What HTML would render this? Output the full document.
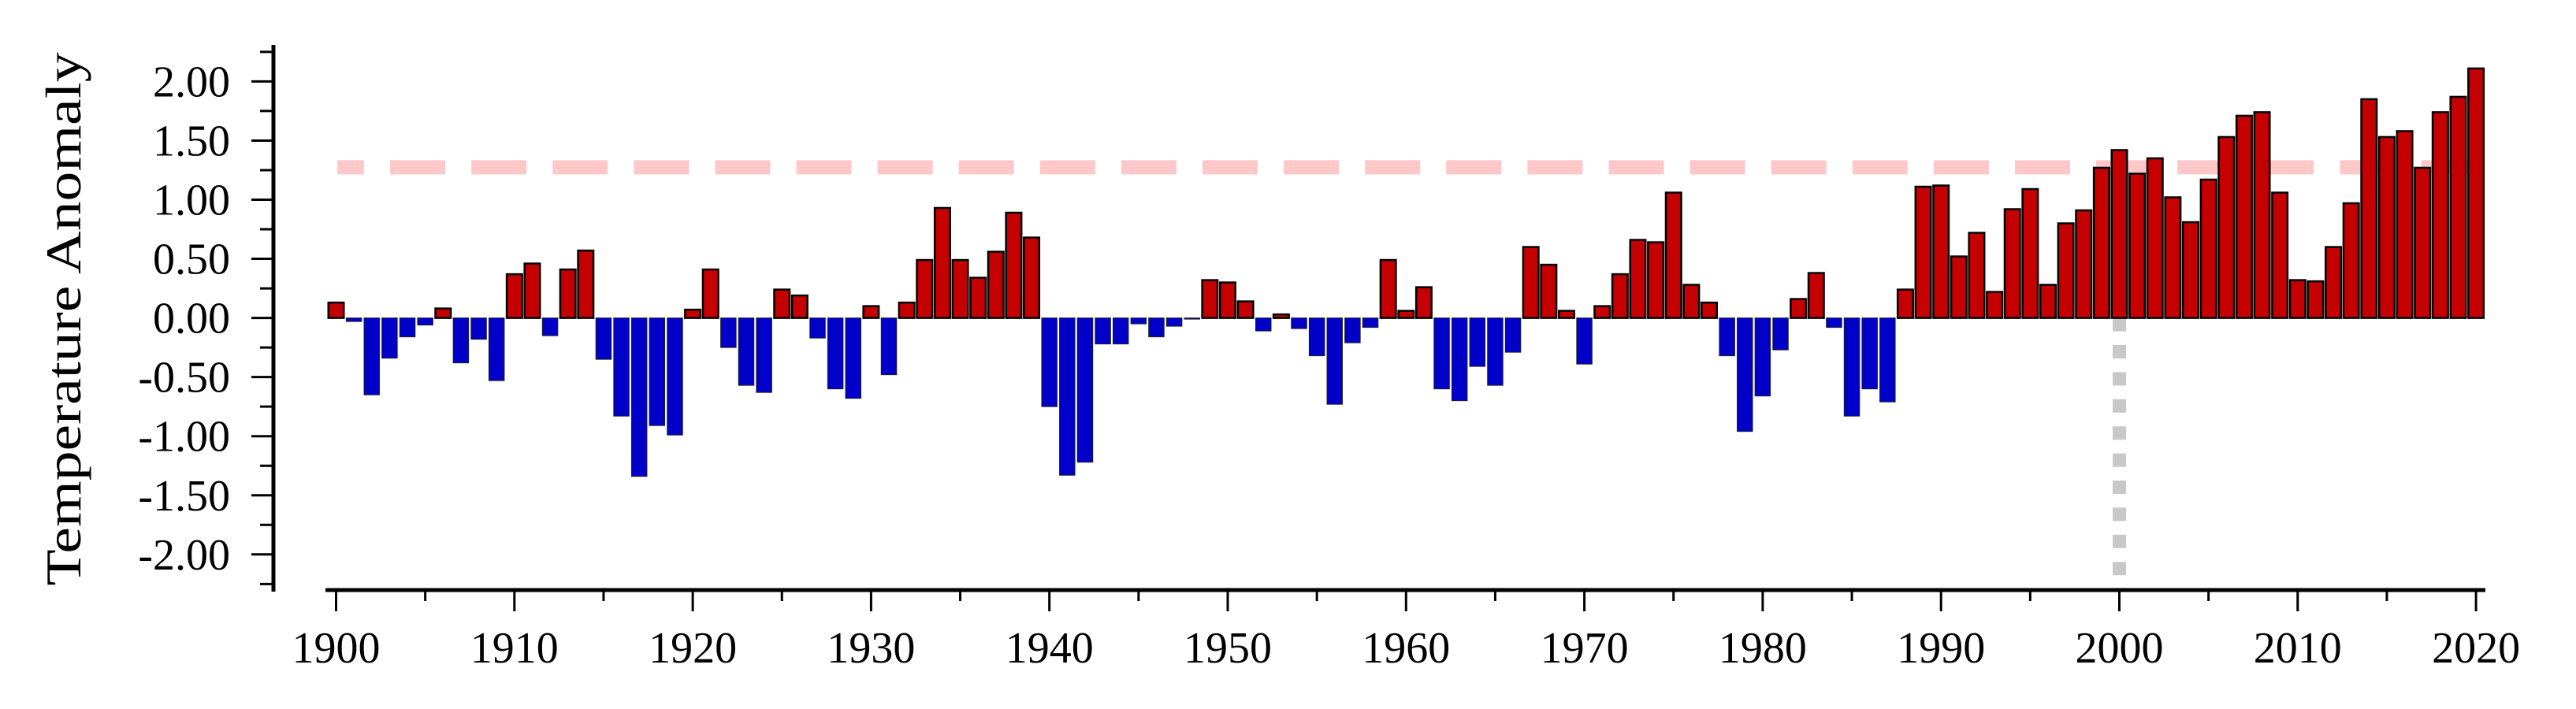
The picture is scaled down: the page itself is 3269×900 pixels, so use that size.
<!DOCTYPE html>
<html><head><meta charset="utf-8"><style>
html,body{margin:0;padding:0;background:#fff;}
svg{display:block;font-family:"Liberation Serif",serif;}
</style></head><body>
<svg id="chart" width="3269" height="900" viewBox="0 0 3269 900" xmlns="http://www.w3.org/2000/svg">
<g id="bg-layer"></g>
<g id="bars"></g>
<g id="axes"></g>
<text x="0" y="0" transform="translate(102,405) rotate(-90)" text-anchor="middle" font-size="64" textLength="677" lengthAdjust="spacingAndGlyphs">Temperature Anomaly</text>
</svg>
<script>
const years = [];
for (let y = 1900; y <= 2020; y++) years.push(y);
const anomalies = [
0.13,-0.03,-0.65,-0.34,-0.16,-0.06,0.08,-0.38,-0.18,-0.53,
0.37,0.46,-0.15,0.41,0.57,-0.35,-0.83,-1.34,-0.91,-0.99,
0.07,0.41,-0.25,-0.57,-0.63,0.24,0.19,-0.17,-0.60,-0.68,
0.10,-0.48,0.13,0.49,0.93,0.49,0.34,0.56,0.89,0.68,
-0.75,-1.33,-1.22,-0.22,-0.22,-0.05,-0.16,-0.07,-0.01,0.32,
0.30,0.14,-0.11,0.03,-0.09,-0.32,-0.73,-0.21,-0.08,0.49,
0.06,0.26,-0.60,-0.70,-0.41,-0.57,-0.29,0.60,0.45,0.06,
-0.39,0.10,0.37,0.66,0.64,1.06,0.28,0.13,-0.32,-0.96,
-0.66,-0.27,0.16,0.38,-0.08,-0.83,-0.60,-0.71,0.24,1.11,
1.12,0.52,0.72,0.22,0.92,1.09,0.28,0.80,0.91,1.27,
1.42,1.22,1.35,1.02,0.81,1.17,1.53,1.71,1.74,1.06,
0.32,0.31,0.60,0.97,1.85,1.53,1.58,1.27,1.74,1.87,2.11];
const yTicks = [2,1.5,1,0.5,0,-0.5,-1,-1.5,-2];
const yTickLabels = ["2.00","1.50","1.00","0.50","0.00","-0.50","-1.00","-1.50","-2.00"];
const xTicks = [1900,1910,1920,1930,1940,1950,1960,1970,1980,1990,2000,2010,2020];
const thresholdValue = [1.274];
const markerYear = [2000];

const NS = "http://www.w3.org/2000/svg";
const xs = y => 426.5 + (y - 1900) * 22.63;
const ys = v => 403.6 - v * 150.1;
function mk(tag, attrs, parent){
  const e = document.createElementNS(NS, tag);
  for (const k in attrs) e.setAttribute(k, attrs[k]);
  parent.appendChild(e); return e;
}
const bg = document.getElementById('bg-layer');
const barsG = document.getElementById('bars');
const axes = document.getElementById('axes');

// threshold dashed line
const tl = mk('line',{x1:428,x2:3150,y1:ys(thresholdValue[0]),y2:ys(thresholdValue[0]),stroke:'#ffc8c8','stroke-width':18,'stroke-dasharray':'70 33.1','stroke-dashoffset':36.1},bg);


// marker dotted vertical
const ml = mk('line',{x1:xs(markerYear[0]),x2:xs(markerYear[0]),y1:ys(0),y2:731,stroke:'#c8c8c8','stroke-width':17,'stroke-dasharray':'17 17.4'},bg);



// bars
const bw = 19.5;
years.forEach((yr,i)=>{
  const v = anomalies[i];
  const pos = v >= 0;
  const top = pos ? ys(v) : ys(0);
  const h = Math.abs(ys(v) - ys(0));
  const r = mk('rect',{x:xs(yr)-bw/2,y:top,width:bw,height:Math.max(h,0.8),
    fill: pos ? '#c40000' : '#0000c8', stroke: pos ? '#000' : '#222', 'stroke-width': pos ? 2.5 : 1},barsG);
  
  
});

// y axis
const ya = mk('line',{x1:347,x2:347,y1:57,y2:751,stroke:'#000','stroke-width':5},axes);


for (let v = -2.25; v <= 2.251; v += 0.25){
  const major = Math.abs(v*2 - Math.round(v*2)) < 1e-6;
  const t = mk('line',{x1: major?319:330, x2:347, y1:ys(v), y2:ys(v), stroke:'#000','stroke-width':3},axes);
  
  
}
yTicks.forEach((v,i)=>{
  const t = mk('text',{x:292,y:ys(v)+19,'text-anchor':'end','font-size':56},axes);
  t.textContent = yTickLabels[i];
  
  
});

// x axis
const xa = mk('line',{x1:413,x2:3154,y1:749,y2:749,stroke:'#000','stroke-width':5},axes);


for (let y = 1900; y <= 2020; y += 5){
  const major = y % 10 === 0;
  const t = mk('line',{x1:xs(y),x2:xs(y),y1:749,y2: major?776:763,stroke:'#000','stroke-width':3},axes);
  
  
}
xTicks.forEach(y=>{
  const t = mk('text',{x:xs(y),y:841,'text-anchor':'middle','font-size':56},axes);
  t.textContent = String(y);
  
  
});
</script>
</body></html>
